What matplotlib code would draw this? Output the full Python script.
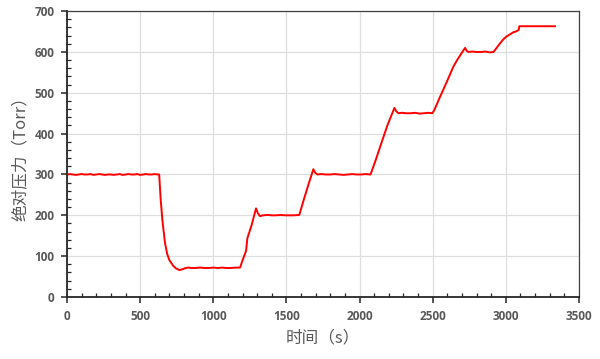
import matplotlib.pyplot as plt
from matplotlib.ticker import MultipleLocator

# pressure trace (time s, absolute pressure Torr)
t_flat0 = [0, 20, 40, 60, 80, 100, 120, 140, 160, 180, 200, 220, 240, 260, 280, 300,
           320, 340, 360, 380, 400, 420, 440, 460, 480, 500, 520, 540, 560, 580, 600, 620, 630]
p_flat0 = [300, 301, 300, 299, 300, 301, 300, 300, 301, 299, 300, 301, 300, 299, 300, 300,
           299, 300, 301, 299, 300, 301, 300, 300, 301, 299, 300, 301, 300, 300, 301, 300, 300]

t_drop = [640, 652, 670, 685, 700, 715, 727, 745, 768, 790, 810, 829, 850, 880, 910, 940,
          970, 1000, 1030, 1060, 1090, 1120, 1150, 1183]
p_drop = [240, 188, 132, 105, 90, 82, 76, 70, 66, 68, 71, 72, 71, 71, 72, 71,
          71, 72, 71, 72, 71, 71, 72, 72]

t_step200 = [1200, 1224, 1233, 1262, 1292, 1305, 1319, 1340, 1370, 1400, 1430, 1460, 1490,
             1520, 1550, 1588]
p_step200 = [90, 113, 144, 176, 217, 205, 198, 200, 201, 200, 200, 201, 200, 200, 200, 201]

t_step300 = [1620, 1650, 1684, 1695, 1711, 1740, 1770, 1800, 1830, 1860, 1890, 1920, 1950,
             1980, 2010, 2040, 2075]
p_step300 = [240, 275, 313, 305, 300, 301, 300, 300, 301, 300, 299, 300, 301, 300, 300, 301, 300]

t_step450 = [2110, 2150, 2190, 2238, 2250, 2265, 2290, 2320, 2350, 2380, 2410, 2440, 2470, 2497]
p_step450 = [335, 378, 420, 463, 455, 450, 451, 450, 450, 451, 449, 450, 451, 450]

t_step600 = [2510, 2550, 2600, 2641, 2670, 2690, 2721, 2732, 2744, 2770, 2800, 2830, 2860,
             2890, 2915]
p_step600 = [457, 490, 530, 564, 582, 593, 610, 603, 600, 601, 600, 600, 601, 599, 600]

t_step665 = [2937, 2960, 2983, 3005, 3028, 3050, 3074, 3088, 3092, 3150, 3200, 3250, 3300, 3336]
p_step665 = [610, 621, 631, 638, 643, 648, 651, 654, 663, 663, 663, 663, 663, 663]

time = t_flat0 + t_drop + t_step200 + t_step300 + t_step450 + t_step600 + t_step665
pressure = p_flat0 + p_drop + p_step200 + p_step300 + p_step450 + p_step600 + p_step665

fig = plt.figure(figsize=(6, 3.59), dpi=100)
ax = fig.add_axes([0.1117, 0.1727, 0.8533, 0.7963])

ax.plot(time, pressure, color='#ff0000', lw=1.4)

ax.set_xlim(0, 3500)
ax.set_ylim(0, 700)
ax.xaxis.set_major_locator(MultipleLocator(500))
ax.xaxis.set_minor_locator(MultipleLocator(100))
ax.yaxis.set_major_locator(MultipleLocator(100))
ax.yaxis.set_minor_locator(MultipleLocator(20))

ax.grid(True, which='major', color='#dedede', lw=0.9)
ax.set_axisbelow(True)

for s in ['top', 'right']:
    ax.spines[s].set_color('#404040')
    ax.spines[s].set_linewidth(0.9)
for s in ['left', 'bottom']:
    ax.spines[s].set_color('#262626')
    ax.spines[s].set_linewidth(1.3)

ax.tick_params(which='major', direction='out', length=4, width=1.1, color='#262626',
               labelsize=8.5, labelcolor='#595959', pad=5)
ax.tick_params(which='minor', direction='in', length=3, width=0.9, color='#262626')
for lab in ax.get_xticklabels() + ax.get_yticklabels():
    lab.set_family(['Open Sans', 'DejaVu Sans'])
    lab.set_fontweight('bold')

ax.set_xlabel('时间（s）', family=['Noto Sans CJK SC', 'DejaVu Sans'], fontsize=12,
              color='#595959', labelpad=5)
ax.set_ylabel('绝对压力（Torr）', family=['Noto Sans CJK SC', 'DejaVu Sans'], fontsize=12,
              color='#595959', labelpad=4)

fig.savefig('out.png', dpi=100)
